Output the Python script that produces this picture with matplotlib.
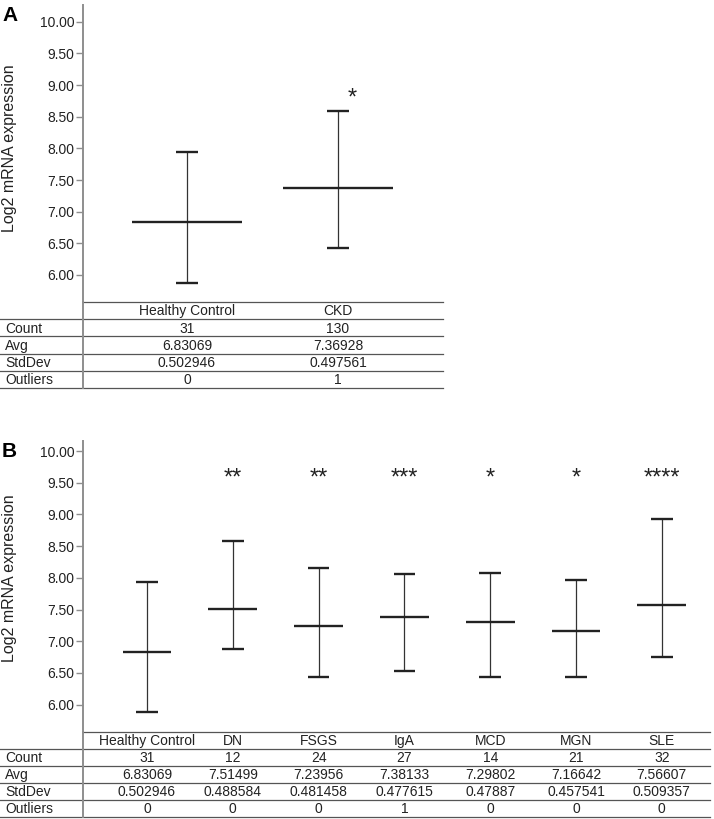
import matplotlib
matplotlib.use("Agg")
import matplotlib.pyplot as plt

plt.rcParams['font.family'] = ['Liberation Sans', 'DejaVu Sans']

# panel A data
a_groups = ['Healthy Control', 'CKD']
a_low = [5.87, 6.42]
a_high = [7.94, 8.59]
a_count = [31, 130]
a_avg = [6.83069, 7.36928]
a_std = [0.502946, 0.497561]
a_out = [0, 1]
a_stars = ['', '*']

# panel B data
b_groups = ['Healthy Control', 'DN', 'FSGS', 'IgA', 'MCD', 'MGN', 'SLE']
b_low = [5.88, 6.875, 6.435, 6.53, 6.435, 6.44, 6.755]
b_high = [7.93, 8.575, 8.155, 8.06, 8.07, 7.96, 8.935]
b_count = [31, 12, 24, 27, 14, 21, 32]
b_avg = [6.83069, 7.51499, 7.23956, 7.38133, 7.29802, 7.16642, 7.56607]
b_std = [0.502946, 0.488584, 0.481458, 0.477615, 0.47887, 0.457541, 0.509357]
b_out = [0, 0, 0, 1, 0, 0, 0]
b_stars = ['', '**', '**', '***', '*', '*', '****']

row_names = ['Count', 'Avg', 'StdDev', 'Outliers']
yticks = [6.0, 6.5, 7.0, 7.5, 8.0, 8.5, 9.0, 9.5, 10.0]

W, H = 714, 819
fig = plt.figure(figsize=(W / 100, H / 100), dpi=100)

AXC = '#8e8e8e'
INK = '#222222'


def px_axes(x0, y0, x1, y1):
    return fig.add_axes([x0 / W, 1 - y1 / H, (x1 - x0) / W, (y1 - y0) / H])


def panel(letter, groups, low, high, avg, count, std, out, stars,
          top, y10, y6, tab_top, tab_bot, x_axis, x_first, step, x_right,
          mean_half, cap_half, star_dx, star_y, star_size):
    ppu = (y6 - y10) / 4.0
    ax = px_axes(x_axis, top, x_right, tab_top)
    ax.set_ylim(6 - (tab_top - y6) / ppu, 10 + (y10 - top) / ppu)
    x0 = -(x_first - x_axis) / step
    x1 = (x_right - x_axis) / step + x0
    ax.set_xlim(x0, x1)
    xs = list(range(len(groups)))
    ax.vlines(xs, low, high, color='#333333', lw=0.9)
    ax.hlines(low, [x - cap_half for x in xs], [x + cap_half for x in xs], color=INK, lw=1.7)
    ax.hlines(high, [x - cap_half for x in xs], [x + cap_half for x in xs], color=INK, lw=1.7)
    ax.hlines(avg, [x - mean_half for x in xs], [x + mean_half for x in xs], color=INK, lw=1.7)
    for x, s in zip(xs, stars):
        if s:
            ax.text(x + star_dx, star_y, s, ha='center', va='center', fontsize=star_size, color=INK)
    for sp in ['top', 'right', 'bottom']:
        ax.spines[sp].set_visible(False)
    ax.spines['left'].set_color(AXC)
    ax.spines['left'].set_linewidth(1.4)
    ax.set_xticks([])
    ax.set_yticks(yticks)
    ax.set_yticklabels(['%.2f' % t for t in yticks])
    ax.tick_params(axis='y', length=5, width=1, color=AXC, pad=1, labelsize=10, labelcolor=INK)

    # stats table underneath
    tb = px_axes(0, tab_top, x_right, tab_bot)
    left = x0 - x_axis / step
    tb.set_xlim(left, x1)
    tb.set_ylim(5, 0)
    tb.axis('off')
    tb.plot([x0, x1], [0, 0], color='#555555', lw=0.9, clip_on=False)
    for r in range(1, 6):
        tb.plot([left, x1], [r, r], color='#555555', lw=0.9, clip_on=False)
    tb.plot([x0, x0], [0, 5], color=AXC, lw=1.4, clip_on=False)
    rows = [count, avg, std, out]
    for x, g in zip(xs, groups):
        tb.text(x, 0.55, g, ha='center', va='center', fontsize=10, color=INK)
    for r, (name, vals) in enumerate(zip(row_names, rows)):
        tb.text(left + 5 / step, r + 1.55, name, ha='left', va='center', fontsize=10, color=INK)
        for x, v in zip(xs, vals):
            tb.text(x, r + 1.55, str(v), ha='center', va='center', fontsize=10, color=INK)

    fig.text(2 / W, 1 - (top + 1) / H, letter, ha='left', va='top', fontsize=15,
             fontweight='bold', color='black')
    fig.text(10 / W, 1 - (y10 + y6) / 2 / H, 'Log2 mRNA expression', rotation=90,
             ha='center', va='center', fontsize=11.5, color=INK)


panel('A', a_groups, a_low, a_high, a_avg, a_count, a_std, a_out, a_stars,
      top=5, y10=21.7, y6=275, tab_top=302, tab_bot=388,
      x_axis=83, x_first=187, step=151, x_right=443,
      mean_half=0.365, cap_half=0.073, star_dx=0.095, star_y=8.78, star_size=17)

panel('B', b_groups, b_low, b_high, b_avg, b_count, b_std, b_out, b_stars,
      top=441, y10=451, y6=704.6, tab_top=731.7, tab_bot=817,
      x_axis=83, x_first=147, step=85.8, x_right=710,
      mean_half=0.285, cap_half=0.125, star_dx=0, star_y=9.56, star_size=17)

fig.savefig('out.png', dpi=100, facecolor='white')
